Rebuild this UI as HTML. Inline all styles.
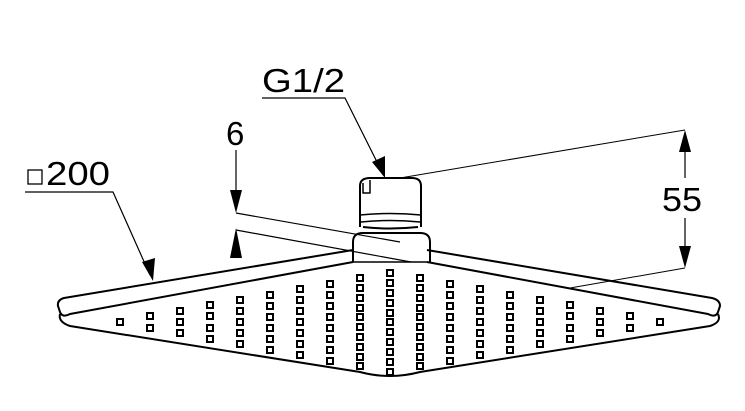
<!DOCTYPE html>
<html><head><style>html,body{margin:0;padding:0;background:#fff}svg{display:block}</style></head>
<body>
<svg width="745" height="411" viewBox="0 0 745 411" xmlns="http://www.w3.org/2000/svg" font-family="Liberation Sans, sans-serif">
<g fill="none" stroke="#000" stroke-width="2" stroke-linejoin="round">
<path d="M353,250 L64,298 Q57,300 58,306 L60,312 Q62,318 70,314 L353,262"/>
<path d="M427,250 L712,298 Q720,300 720,306 L718,312 Q716,318 708,314 L427,262"/>
<path d="M353,262 L427,262" stroke-width="1.5"/>
<path d="M60,314 Q58,322 70,326 L360,372 Q390,380 420,372 L710,326 Q722,322 718,314"/>
<path d="M353,262 L353,242 Q353,233 363,233 L420,233 Q430,233 430,242 L430,262"/>
<path d="M360,227 L360,186 Q360,178 370,178 L412,178 Q421,178 421,186 L421,227"/>
<path d="M360,215 Q390,212 421,215 M361,222 Q390,219 420,222" stroke-width="1.5"/>
<path d="M363,183 L363,193 L370,193 L370,180" stroke-width="1.5"/>
<path d="M363,227 Q390,230 418,227"/>
</g>
<g fill="none" stroke="#000" stroke-width="2">
<path d="M387,270h6v6h-6zM387,280h6v6h-6zM387,290h6v6h-6zM387,300h6v6h-6zM387,310h6v6h-6zM387,319h6v6h-6zM387,329h6v6h-6zM387,339h6v6h-6zM387,349h6v6h-6zM387,359h6v6h-6zM387,369h6v6h-6z"/>
<path d="M357,275h6v6h-6zM357,285h6v6h-6zM357,295h6v6h-6zM357,305h6v6h-6zM357,314h6v6h-6zM357,324h6v6h-6zM357,334h6v6h-6zM357,344h6v6h-6zM357,354h6v6h-6zM357,363h6v6h-6z"/>
<path d="M417,275h6v6h-6zM417,285h6v6h-6zM417,295h6v6h-6zM417,305h6v6h-6zM417,314h6v6h-6zM417,324h6v6h-6zM417,334h6v6h-6zM417,344h6v6h-6zM417,354h6v6h-6zM417,363h6v6h-6z"/>
<path d="M327,281h6v6h-6zM327,292h6v6h-6zM327,303h6v6h-6zM327,314h6v6h-6zM327,325h6v6h-6zM327,336h6v6h-6zM327,347h6v6h-6zM327,358h6v6h-6z"/>
<path d="M447,281h6v6h-6zM447,292h6v6h-6zM447,303h6v6h-6zM447,314h6v6h-6zM447,325h6v6h-6zM447,336h6v6h-6zM447,347h6v6h-6zM447,358h6v6h-6z"/>
<path d="M297,286h6v6h-6zM297,297h6v6h-6zM297,308h6v6h-6zM297,319h6v6h-6zM297,330h6v6h-6zM297,341h6v6h-6zM297,352h6v6h-6z"/>
<path d="M477,286h6v6h-6zM477,297h6v6h-6zM477,308h6v6h-6zM477,319h6v6h-6zM477,330h6v6h-6zM477,341h6v6h-6zM477,352h6v6h-6z"/>
<path d="M267,292h6v6h-6zM267,303h6v6h-6zM267,314h6v6h-6zM267,325h6v6h-6zM267,336h6v6h-6zM267,347h6v6h-6z"/>
<path d="M507,292h6v6h-6zM507,303h6v6h-6zM507,314h6v6h-6zM507,325h6v6h-6zM507,336h6v6h-6zM507,347h6v6h-6z"/>
<path d="M237,297h6v6h-6zM237,308h6v6h-6zM237,319h6v6h-6zM237,330h6v6h-6zM237,341h6v6h-6z"/>
<path d="M537,297h6v6h-6zM537,308h6v6h-6zM537,319h6v6h-6zM537,330h6v6h-6zM537,341h6v6h-6z"/>
<path d="M207,302h6v6h-6zM207,313h6v6h-6zM207,325h6v6h-6zM207,336h6v6h-6z"/>
<path d="M567,302h6v6h-6zM567,313h6v6h-6zM567,325h6v6h-6zM567,336h6v6h-6z"/>
<path d="M177,308h6v6h-6zM177,319h6v6h-6zM177,330h6v6h-6z"/>
<path d="M597,308h6v6h-6zM597,319h6v6h-6zM597,330h6v6h-6z"/>
<path d="M147,313h6v6h-6zM147,325h6v6h-6z"/>
<path d="M627,313h6v6h-6zM627,325h6v6h-6z"/>
<path d="M117,319h6v6h-6z"/>
<path d="M657,319h6v6h-6z"/>
</g>
<g stroke="#000" fill="none" stroke-width="1.2">
<path d="M25,192 L113,192 L150,275"/>
<path d="M262,98 L345,98 L382,172"/>
<path d="M236,150 L236,205 M236,213 L400,242 M236,230 L411,262"/>
<path d="M685,130 L400,178 M685,268 L570,288" stroke-width="1"/>
<path d="M685,140 L685,178 M685,218 L685,258"/>
</g>
<g fill="#000">
<polygon points="153,281 142,262 155,258"/>
<polygon points="385,178 372,162 385,156"/>
<polygon points="236,213 230,190 242,190"/>
<polygon points="236,228 230,258 242,258"/>
<polygon points="685,130 679,152 691,152"/>
<polygon points="685,268 679,246 691,246"/>
</g>
<g font-size="33" fill="#000">
<text x="46" y="185" textLength="64" lengthAdjust="spacingAndGlyphs">200</text>
<rect x="28" y="170" width="14" height="14" fill="none" stroke="#000" stroke-width="1.3"/>
<text x="226" y="145">6</text>
<text x="262" y="92" textLength="83" lengthAdjust="spacingAndGlyphs">G1/2</text>
<text x="662" y="211" textLength="40" lengthAdjust="spacingAndGlyphs">55</text>
</g>
</svg>
</body></html>
